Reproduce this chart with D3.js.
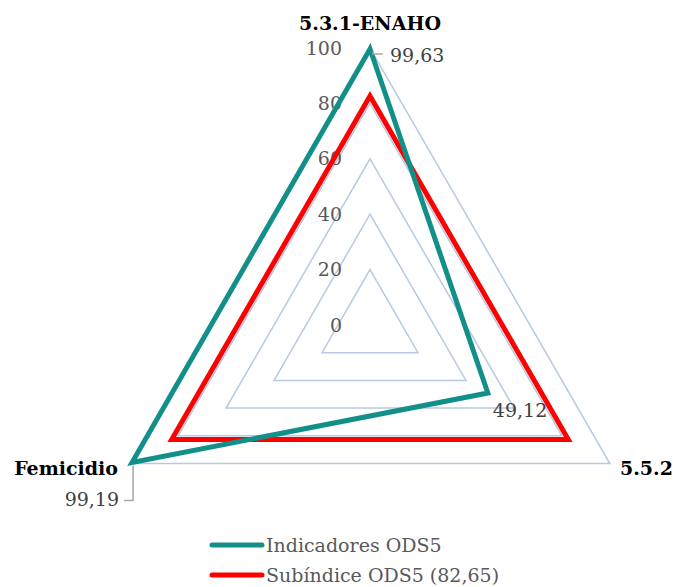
<!DOCTYPE html>
<html>
<head>
<meta charset="utf-8">
<script src="https://cdn.jsdelivr.net/npm/d3@7"></script>
<style>
  body { margin: 0; background: #fff; }
  svg { font-family: "DejaVu Serif", "Liberation Serif", serif; }
</style>
</head>
<body>
<svg id="chart" width="673" height="587"></svg>
<script>
const axes = ["5.3.1-ENAHO", "5.5.2", "Femicidio"];
const indicadores = [99.63, 49.12, 99.19];
const subindice = [82.65, 82.65, 82.65];
const ticks = [0, 20, 40, 60, 80, 100];
const seriesNames = ["Indicadores ODS5", "Subíndice ODS5 (82,65)"];

const svg = d3.select("#chart");
const cx = 370, cy = 325, R = 277;

const r = d3.scaleLinear().domain([0, 100]).range([0, R]);
const angle = d3.scaleOrdinal().domain(axes).range([0, 2 * Math.PI / 3, 4 * Math.PI / 3]);

const g = svg.append("g").attr("transform", `translate(${cx},${cy})`);

const pt = (a, v) => [Math.sin(angle(a)) * r(v), -Math.cos(angle(a)) * r(v)];
const line = d3.line().curve(d3.curveLinearClosed);

// grid rings
g.selectAll(".ring")
  .data(ticks.filter(t => t > 0))
  .enter().append("path")
  .attr("d", t => line(axes.map(a => pt(a, t))))
  .attr("fill", "none")
  .attr("stroke", "#b8c9e4")
  .attr("stroke-width", 1.5);

// tick labels
g.selectAll(".tick")
  .data(ticks)
  .enter().append("text")
  .attr("x", -28)
  .attr("y", t => -r(t))
  .attr("dy", "0.35em")
  .attr("text-anchor", "end")
  .attr("fill", "#595959")
  .style("font-size", "19px")
  .text(t => t);

// series
const series = [
  { name: seriesNames[1], values: subindice, color: "#ff0000" },
  { name: seriesNames[0], values: indicadores, color: "#138f8a" }
];

g.selectAll(".series")
  .data(series)
  .enter().append("path")
  .attr("d", s => line(axes.map((a, i) => pt(a, s.values[i]))))
  .attr("fill", "none")
  .attr("stroke", s => s.color)
  .attr("stroke-width", 5)
  .attr("stroke-linejoin", "miter");

// category labels
const catPos = [
  { x: 0, y: -R - 18, anchor: "middle" },
  { x: 250, y: 150, anchor: "start" },
  { x: -252, y: 150, anchor: "end" }
];
g.selectAll(".cat")
  .data(axes)
  .enter().append("text")
  .attr("x", (d, i) => catPos[i].x)
  .attr("y", (d, i) => catPos[i].y)
  .attr("text-anchor", (d, i) => catPos[i].anchor)
  .style("font-size", "19px")
  .style("font-weight", "bold")
  .attr("fill", "#000")
  .text(d => d);

// data labels for Indicadores
const fmt = v => String(v).replace(".", ",");
const [tx, ty] = pt(axes[0], indicadores[0]);
const [fx, fy] = pt(axes[2], indicadores[2]);
const [mx, my] = pt(axes[1], indicadores[1]);

g.append("path")
  .attr("d", `M${tx + 3},${ty + 3}L${tx + 3},${ty + 5}L${tx + 13},${ty + 5}`)
  .attr("fill", "none").attr("stroke", "#a6a6a6").attr("stroke-width", 1.5);
g.append("text")
  .attr("x", tx + 20).attr("y", ty + 6).attr("dy", "0.35em")
  .attr("fill", "#404040").style("font-size", "19px")
  .text(fmt(indicadores[0]));

g.append("path")
  .attr("d", `M${fx + 1},${fy + 3}L${fx + 1},${fy + 38}L${fx - 8},${fy + 38}`)
  .attr("fill", "none").attr("stroke", "#a6a6a6").attr("stroke-width", 1.5);
g.append("text")
  .attr("x", fx - 13).attr("y", fy + 37).attr("dy", "0.35em")
  .attr("text-anchor", "end")
  .attr("fill", "#404040").style("font-size", "19px")
  .text(fmt(indicadores[2]));

g.append("text")
  .attr("x", mx + 5).attr("y", my + 17).attr("dy", "0.35em")
  .attr("fill", "#404040").style("font-size", "19px")
  .text(fmt(indicadores[1]));

// legend
const legend = svg.append("g").attr("transform", "translate(210,545)");
const legItems = legend.selectAll(".leg")
  .data([series[1], series[0]])
  .enter().append("g")
  .attr("transform", (d, i) => `translate(0,${i * 30})`);
legItems.append("line")
  .attr("x1", 2).attr("x2", 52)
  .attr("stroke", d => d.color)
  .attr("stroke-width", 5)
  .attr("stroke-linecap", "round");
legItems.append("text")
  .attr("x", 56).attr("dy", "0.35em")
  .attr("fill", "#595959").style("font-size", "19px")
  .text(d => d.name);
</script>
</body>
</html>
